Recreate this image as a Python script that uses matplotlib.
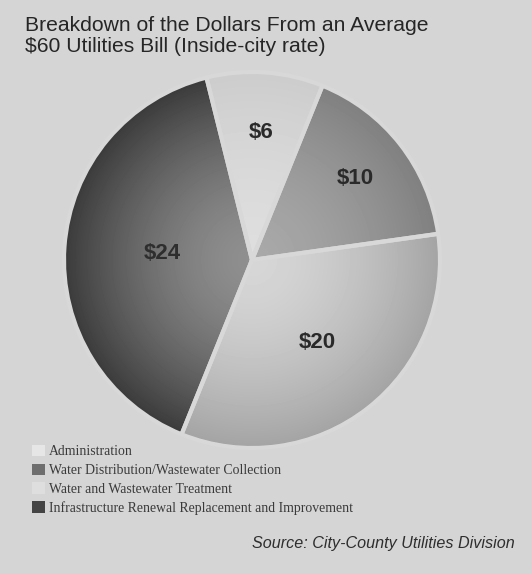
import numpy as np
import matplotlib
matplotlib.use("Agg")
import matplotlib.pyplot as plt

# data
values = [6, 10, 20, 24]
value_labels = ["$6", "$10", "$20", "$24"]
categories = [
    "Administration",
    "Water Distribution/Wastewater Collection",
    "Water and Wastewater Treatment",
    "Infrastructure Renewal Replacement and Improvement",
]

W, H = 531, 573
paper = "#d5d5d5"

# grey shading per slice: (legend/face, centre, rim) and where the value sits
face_grey = ["#e6e6e6", "#6e6e6e", "#dedede", "#444444"]
shade = [(0.87, 0.80), (0.66, 0.50), (0.84, 0.64), (0.56, 0.23)]
label_frac = [0.68, 0.70, 0.56, 0.48]
label_col = ["#2a2a2a", "#2a2a2a", "#2a2a2a", "#2e2e2e"]

fig = plt.figure(figsize=(W / 100, H / 100), dpi=100, facecolor=paper)
ax = fig.add_axes([0, 0, 1, 1])

wedges, _ = ax.pie(
    values, colors=face_grey, startangle=104, counterclock=False,
    center=(252, 313), radius=188, explode=[0.012] * 4, frame=True,
    wedgeprops=dict(edgecolor="#d8d8d8", linewidth=3),
)

# legend first, so the swatches keep the flat face colours
leg = fig.legend(
    wedges, categories, loc="upper left",
    bbox_to_anchor=(32 / W, 1 - 445 / H), frameon=False,
    prop=dict(family="Liberation Serif", size=9.9),
    handlelength=0.95, handleheight=0.9, handletextpad=0.3,
    labelspacing=0.38, borderpad=0, borderaxespad=0,
)
for h in leg.legend_handles:
    h.set_edgecolor("none")
for t in leg.get_texts():
    t.set_color("#3a3a3a")

# radial shading clipped to each slice
yy, xx = np.mgrid[0:H, 0:W] + 0.5
for w, (g_in, g_out) in zip(wedges, shade):
    cx, cy = w.center
    t = np.clip(np.hypot(xx - cx, yy - cy) / w.r, 0, 1) ** 1.6
    img = g_in + (g_out - g_in) * t
    im = ax.imshow(img, cmap="gray", vmin=0, vmax=1, extent=(0, W, 0, H),
                   origin="lower", interpolation="bilinear", zorder=2)
    im.set_clip_path(w)
    w.set_zorder(3)
    w.set_facecolor("none")

for w, lab, frac, col in zip(wedges, value_labels, label_frac, label_col):
    ang = np.deg2rad((w.theta1 + w.theta2) / 2)
    cx, cy = w.center
    ax.text(cx + frac * w.r * np.cos(ang), cy + frac * w.r * np.sin(ang), lab,
            ha="center", va="center", fontsize=16, fontweight="bold",
            family="Liberation Sans", color=col, zorder=4)

ax.set_xlim(0, W)
ax.set_ylim(0, H)
ax.axis("off")

fig.text(25 / W, 1 - 31 / H, "Breakdown of the Dollars From an Average",
         fontsize=15.2, family="Liberation Sans", color="#262626", va="baseline")
fig.text(25 / W, 1 - 52 / H, "$60 Utilities Bill (Inside-city rate)",
         fontsize=15.2, family="Liberation Sans", color="#262626", va="baseline")
fig.text(515 / W, 1 - 548 / H, "Source: City-County Utilities Division",
         fontsize=11.6, family="Liberation Sans", style="italic",
         color="#2e2e2e", ha="right", va="baseline")

fig.savefig("out.png", dpi=100, facecolor=paper)
